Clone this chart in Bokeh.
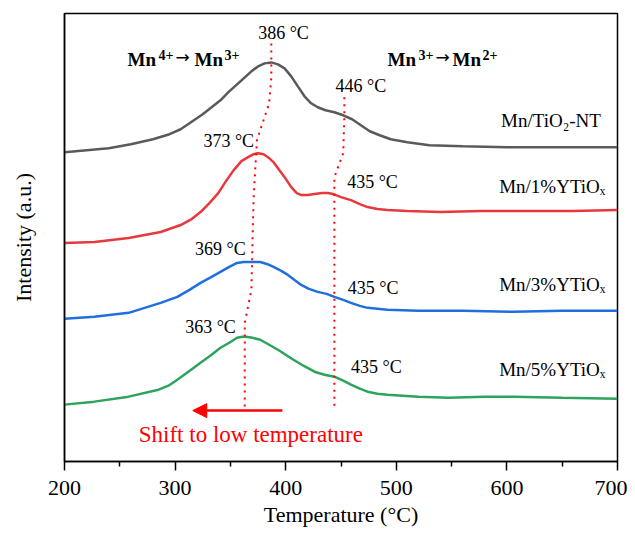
from bokeh.plotting import figure
from bokeh.models import Range1d, FixedTicker, Arrow, NormalHead
from bokeh.core.properties import value
from bokeh.embed import file_html
from bokeh.resources import INLINE

# ---- data (Temperature in °C, intensity in arbitrary units) ----
gray_T = [200, 220, 240, 260, 280, 295, 305, 317, 325, 333, 341, 348, 355, 362, 369, 375, 381, 387,
          393, 399, 405, 411, 417, 423, 429, 436, 444, 452, 460, 468, 476, 485, 495, 510, 530, 560,
          600, 650, 700]
gray_I = [310, 312, 314, 318, 323, 328, 333, 342, 348, 355, 362, 370, 377, 384, 391, 396, 399, 400,
          398, 394, 386, 376, 366, 359, 355, 352, 350, 347, 343, 337, 331, 327, 323, 320, 317, 316,
          315, 315, 315]

red_T = [200, 227, 258, 287, 305, 315, 323, 331, 339, 346, 353, 360, 366, 371, 375, 380, 384, 389,
         393, 399, 405, 410, 414, 420, 426, 433, 438, 443, 450, 459, 467, 474, 483, 492, 510, 540,
         576, 620, 660, 700]
red_I = [219, 220, 224, 230, 237, 243, 250, 259, 269, 281, 292, 301, 305, 308, 309, 308, 305, 300,
         294, 285, 275, 269, 267, 267, 268, 269, 269, 268, 265, 262, 258, 255, 253, 252, 251, 250,
         251, 251, 251, 252]

blue_T = [200, 227, 258, 287, 302, 313, 323, 333, 341, 349, 356, 362, 366, 372, 377, 383, 389, 396,
          402, 408, 414, 421, 429, 437, 444, 452, 459, 467, 474, 483, 492, 520, 560, 606, 650, 700]
blue_I = [143, 145, 149, 159, 165, 172, 179, 185, 190, 195, 199, 200, 200, 200, 200, 198, 195, 191,
          187, 182, 177, 173, 170, 168, 165, 162, 159, 156, 154, 153, 152, 151, 151, 150, 151, 151]

green_T = [200, 227, 258, 285, 294, 302, 312, 323, 333, 341, 349, 356, 361, 364, 370, 377, 385, 393,
           400, 407, 416, 426, 435, 444, 452, 459, 467, 474, 483, 492, 520, 547, 580, 606, 650, 700]
green_I = [57, 60, 65, 72, 76, 82, 90, 99, 107, 114, 119, 124, 125, 125, 124, 122, 117, 112,
           107, 102, 96, 90, 87, 85, 81, 77, 73, 70, 68, 67, 65, 64, 65, 65, 64, 63]

series_names = ["Mn/TiO₂-NT", "Mn/1%YTiOₓ", "Mn/3%YTiOₓ", "Mn/5%YTiOₓ"]
series_colors = ["#5a5a5a", "#e8383d", "#1f6fdc", "#2ea35c"]

# peak guide lines (dotted)
peak1_T = [387, 387, 385, 374, 371, 370, 369, 363, 363]
peak1_I = [419, 385, 359, 322, 265, 222, 172, 139, 54]
peak2_T = [453, 453, 452, 444, 444]
peak2_I = [365, 345, 309, 285, 54]

peak_labels = ["386 °C", "446 °C", "373 °C", "435 °C", "369 °C", "435 °C", "363 °C", "435 °C"]
peak_label_T = [398, 468, 348.5, 478.5, 341, 479, 332, 482]
peak_label_I = [429, 376, 321, 280, 213, 174, 135, 95]

name_T = [685, 689, 689, 689]
name_I = [342, 276, 177, 92]

x_ticks = [200, 300, 400, 500, 600, 700]
x_minor = [250, 350, 450, 550, 650]

FONT = value("Liberation Serif")


def tx(px):
    # frame pixel x -> temperature
    return 200 + (px - 64) * 500 / 553.0


def iy(py):
    # frame pixel y -> intensity units
    return 462 - py


p = figure(width=627, height=529, output_backend="svg", toolbar_location=None,
           x_range=Range1d(200, 700), y_range=Range1d(0, 449),
           min_border_left=64, min_border_right=10, min_border_top=13, min_border_bottom=67)
p.xgrid.visible = False
p.ygrid.visible = False
p.outline_line_color = "black"
p.outline_line_width = 1.5
p.background_fill_color = "white"
p.border_fill_color = "white"

xa = p.xaxis[0]
xa.ticker = FixedTicker(ticks=x_ticks, minor_ticks=x_minor)
xa.axis_label = "Temperature (°C)"
xa.axis_label_text_font = "Liberation Serif"
xa.axis_label_text_font_size = "22px"
xa.axis_label_text_font_style = "normal"
xa.axis_label_text_color = "black"
xa.axis_label_standoff = 4
xa.major_label_text_font = "Liberation Serif"
xa.major_label_text_font_size = "22px"
xa.major_label_text_color = "black"
xa.major_label_standoff = 10
xa.major_tick_out = 9
xa.major_tick_in = 0
xa.minor_tick_out = 5
xa.minor_tick_in = 0
xa.axis_line_width = 1.5
xa.major_tick_line_width = 1.5
xa.minor_tick_line_width = 1.5

ya = p.yaxis[0]
ya.ticker = FixedTicker(ticks=[])
ya.major_tick_line_color = None
ya.minor_tick_line_color = None
ya.major_label_text_font_size = "0px"
ya.axis_label = "Intensity (a.u.)"
ya.axis_label_text_font = "Liberation Serif"
ya.axis_label_text_font_size = "22px"
ya.axis_label_text_font_style = "normal"
ya.axis_label_text_color = "black"
ya.axis_label_standoff = 29
ya.axis_line_width = 1.5

for T, I, c in zip([gray_T, red_T, blue_T, green_T], [gray_I, red_I, blue_I, green_I], series_colors):
    p.line(T, I, line_color=c, line_width=2.5)

p.line(peak1_T, peak1_I, line_color="red", line_width=2, line_dash="2 5")
p.line(peak2_T, peak2_I, line_color="red", line_width=2, line_dash="2 5")

p.text(x=peak_label_T, y=peak_label_I, text=peak_labels, text_font=FONT, text_font_size="18px",
       text_align="center", text_baseline="middle", text_color="black")

p.text(x=name_T, y=name_I, text=series_names, text_font=FONT, text_font_size="19px",
       text_align="right", text_baseline="middle", text_color="black")

# bold transition labels built from pieces (main text + superscripts)
pieces = [
    ("Mn", 127, 59, "19px", "bold"), ("4+", 158, 55, "14px", "bold"),
    ("Mn", 194, 59, "19px", "bold"), ("3+", 224, 55, "14px", "bold"),
    ("Mn", 387, 59, "19px", "bold"), ("3+", 418, 55, "14px", "bold"),
    ("Mn", 452, 59, "19px", "bold"), ("2+", 482, 55, "14px", "bold"),
]
for t, px, py, fs, st in pieces:
    p.text(x=[tx(px)], y=[iy(py)], text=[t], text_font=FONT, text_font_size=fs,
           text_font_style=st, text_align="left", text_baseline="alphabetic", text_color="black")

# reaction arrows between the Mn species
p.text(x=[tx(175), tx(435)], y=[iy(57), iy(57)], text=["→", "→"], text_font=value("DejaVu Sans"),
       text_font_size="17px", text_align="left", text_baseline="middle", text_color="black")

p.text(x=[368.5], y=[27], text=["Shift to low temperature"], text_font=FONT, text_font_size="23px",
       text_align="center", text_baseline="middle", text_color="red")

p.add_layout(Arrow(end=NormalHead(size=14, fill_color="red", line_color="red"),
                   x_start=397, y_start=51, x_end=316, y_end=51,
                   line_color="red", line_width=2.5))

open("out.html", "w").write(file_html(p, INLINE))
